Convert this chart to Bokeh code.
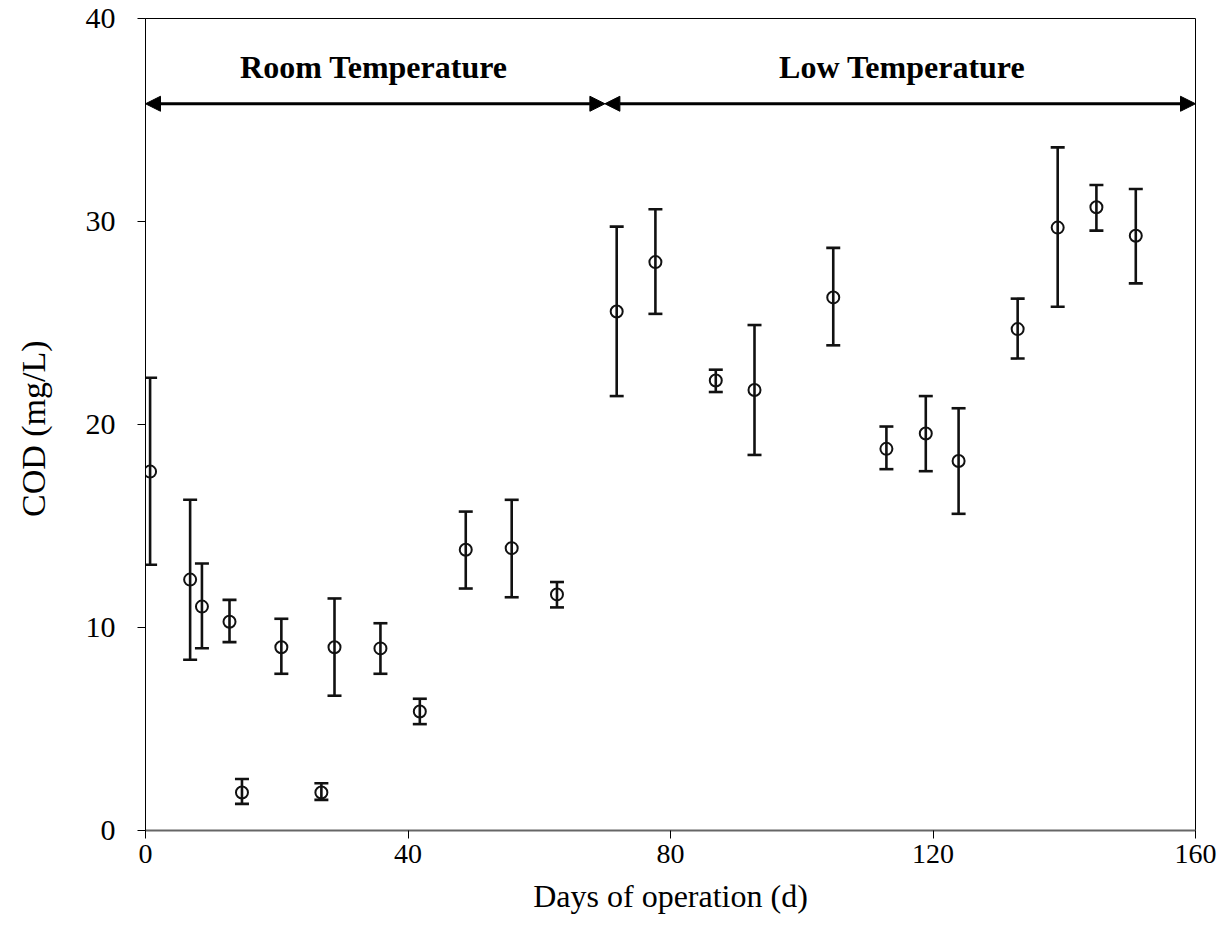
from bokeh.plotting import figure
from bokeh.models import (Whisker, TeeHead, Arrow, NormalHead, ColumnDataSource,
                          Range1d, FixedTicker)
from bokeh.core.properties import value
from bokeh.embed import file_html
from bokeh.resources import INLINE

# ---- data ----
days = [0.7, 6.8, 8.6, 12.8, 14.7, 20.7, 26.8, 28.8, 35.8, 41.8, 48.8, 55.8, 62.7,
        71.8, 77.7, 86.9, 92.8, 104.8, 112.9, 118.9, 123.9, 132.9, 139.0, 144.9, 150.9]
cod = [17.68, 12.36, 11.03, 10.28, 1.87, 9.03, 1.87, 9.03, 8.97, 5.86, 13.83, 13.91, 11.63,
       25.57, 28.0, 22.17, 21.7, 26.26, 18.8, 19.56, 18.2, 24.7, 29.7, 30.7, 29.3]
cod_upper = [22.3, 16.29, 13.15, 11.36, 2.54, 10.43, 2.33, 11.43, 10.21, 6.49, 15.71, 16.29, 12.24,
             29.75, 30.6, 22.7, 24.9, 28.7, 19.9, 21.4, 20.8, 26.2, 33.65, 31.8, 31.6]
cod_lower = [13.09, 8.41, 8.98, 9.28, 1.31, 7.72, 1.51, 6.64, 7.72, 5.24, 11.92, 11.49, 10.99,
             21.4, 25.45, 21.6, 18.5, 23.9, 17.8, 17.7, 15.6, 23.25, 25.8, 29.55, 26.95]

phase_names = ["Room Temperature", "Low Temperature"]
phase_start = [0, 70]
phase_end = [70, 160]
phase_label_x = [34.8, 115.3]
phase_arrow_y = [35.8, 35.8]
phase_label_y = [37.6, 37.6]

x_ticks = [0, 40, 80, 120, 160]
y_ticks = [0, 10, 20, 30, 40]

FONT = "Liberation Serif"
INK = "#111111"

p = figure(width=1227, height=928, x_range=Range1d(0, 160), y_range=Range1d(0, 40),
           output_backend="svg", toolbar_location=None,
           min_border_left=145, min_border_right=32, min_border_top=18, min_border_bottom=98)

p.background_fill_color = "white"
p.border_fill_color = "white"
p.outline_line_color = "black"
p.outline_line_width = 1
p.grid.visible = False

src = ColumnDataSource(dict(days=days, cod=cod, upper=cod_upper, lower=cod_lower))

whisk = Whisker(source=src, base="days", upper="upper", lower="lower",
                line_color=INK, line_width=2.6,
                upper_head=TeeHead(size=14, line_color=INK, line_width=2.6),
                lower_head=TeeHead(size=14, line_color=INK, line_width=2.6))
p.add_layout(whisk)

p.scatter("days", "cod", source=src, marker="circle", size=12,
          fill_alpha=0, line_color=INK, line_width=2)

arrow_src = ColumnDataSource(dict(x0=phase_start, x1=phase_end, y0=phase_arrow_y, y1=phase_arrow_y))
p.add_layout(Arrow(source=arrow_src, x_start="x0", y_start="y0", x_end="x1", y_end="y1",
                   line_color="black", line_width=3,
                   start=NormalHead(size=15, fill_color="black", line_color="black"),
                   end=NormalHead(size=15, fill_color="black", line_color="black")))

p.text(x=phase_label_x, y=phase_label_y, text=phase_names,
       text_font=value(FONT), text_font_style="bold", text_font_size="32px",
       text_align="center", text_baseline="middle", text_color="black")

# axes
p.xaxis.ticker = FixedTicker(ticks=x_ticks)
p.yaxis.ticker = FixedTicker(ticks=y_ticks)
p.xaxis.axis_label = "Days of operation (d)"
p.yaxis.axis_label = "COD  (mg/L)"
for ax in (p.xaxis[0], p.yaxis[0]):
    ax.axis_label_text_font = FONT
    ax.axis_label_text_font_style = "normal"
    ax.axis_label_text_color = "black"
    ax.major_label_text_font = FONT
    ax.major_label_text_color = "black"
    ax.minor_tick_line_color = None
    ax.major_tick_in = 0
    ax.major_tick_out = 8
    ax.major_tick_line_color = "black"

p.xaxis.axis_label_text_font_size = "32px"
p.yaxis.axis_label_text_font_size = "34px"
p.xaxis.major_label_text_font_size = "28px"
p.yaxis.major_label_text_font_size = "30px"

p.yaxis.axis_line_color = "black"
p.yaxis.axis_line_width = 1
p.xaxis.axis_line_color = "#666666"
p.xaxis.axis_line_width = 2
p.xaxis.major_label_standoff = 6
p.yaxis.major_label_standoff = 22
p.xaxis.axis_label_standoff = 12
p.yaxis.axis_label_standoff = 31

open("out.html", "w").write(file_html(p, INLINE))
